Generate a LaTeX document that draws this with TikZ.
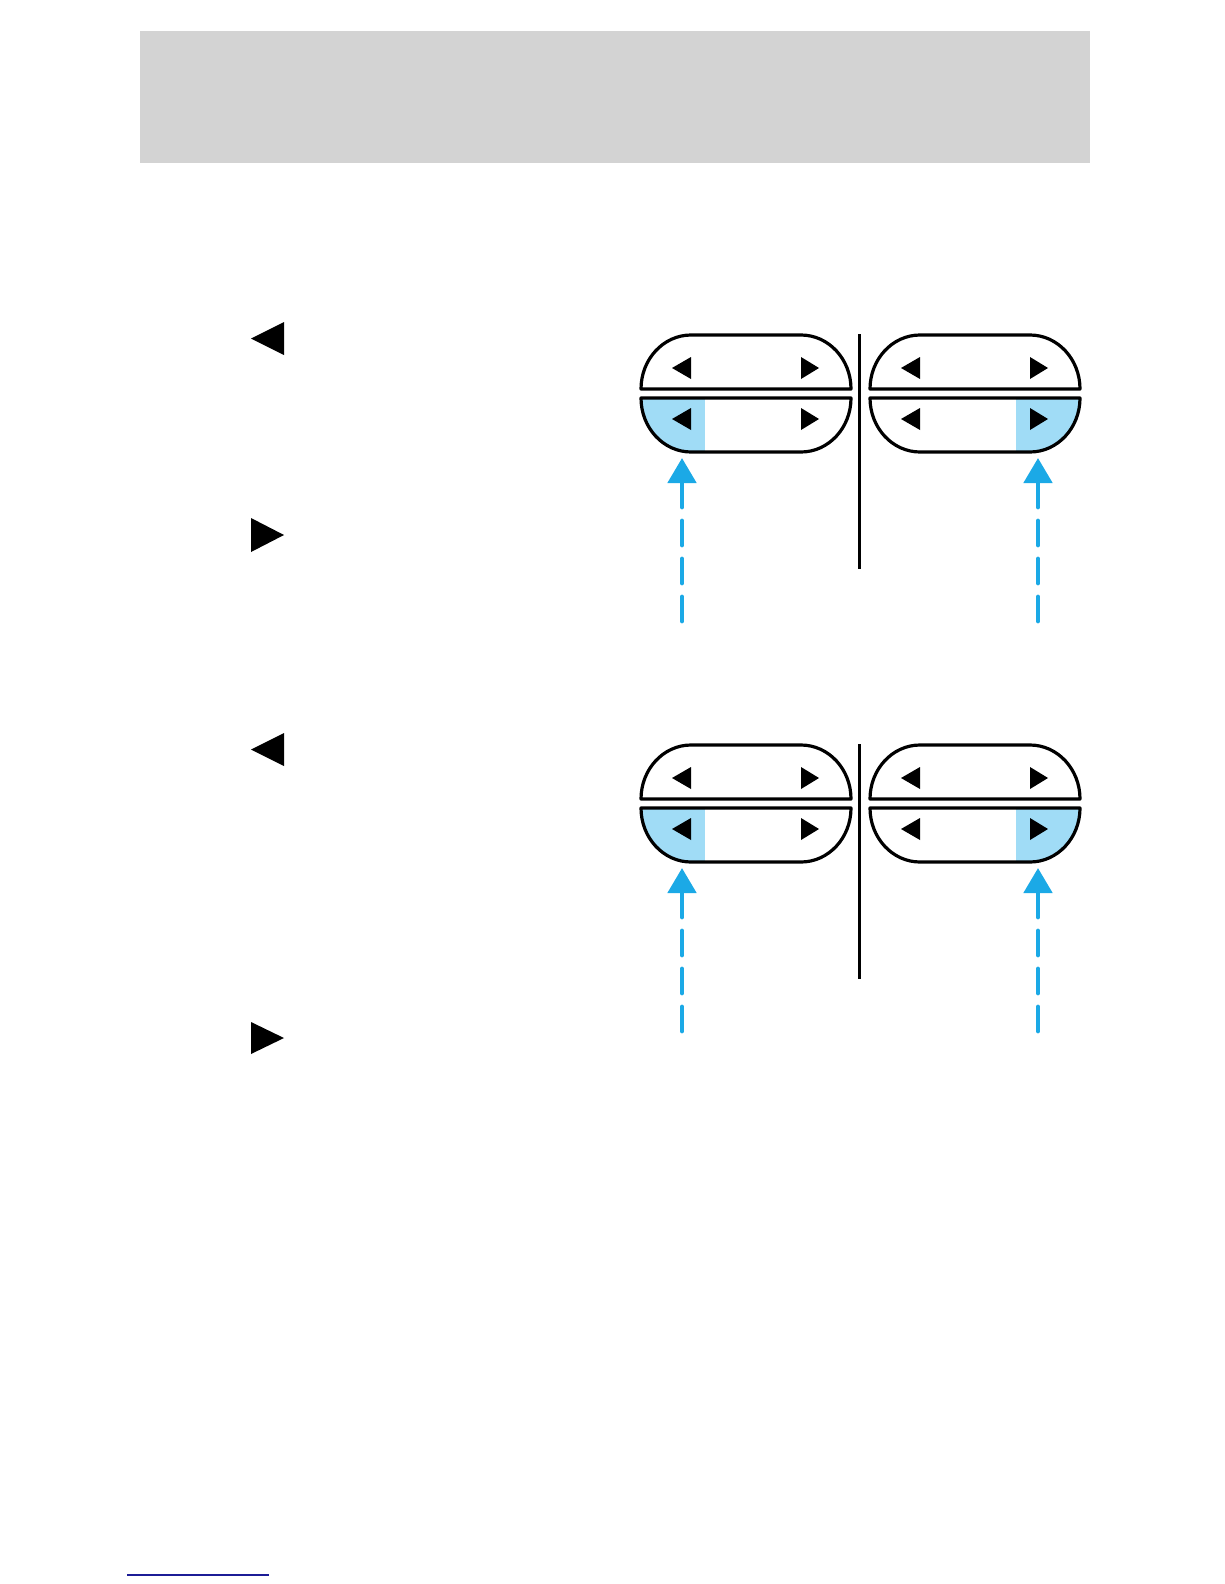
\documentclass[tikz,border=0pt]{standalone}
\usetikzlibrary{arrows.meta}
\definecolor{headgray}{HTML}{D3D3D3}
\definecolor{lightfill}{HTML}{A0DCF6}
\definecolor{arrowblue}{HTML}{1BA9E6}
\definecolor{linknavy}{HTML}{1C1C96}
\tikzset{
  outline/.style={draw=black, line width=3.2pt, line join=round},
  tri/.style={fill=black, draw=none},
  bluearrow/.style={draw=arrowblue, line width=4.8pt, line cap=round,
    dash pattern=on 24pt off 14pt,
    arrows={-Triangle[width=28pt,length=25pt,fill=arrowblue]}},
  divider/.style={draw=black, line width=3pt},
  pics/btngrp/.style={code={
    % upper half
    \path[outline, fill=white] (0,54) .. controls (0,24.2) and (22.4,0) .. (50,0) -- (160,0)
       .. controls (187.6,0) and (210,24.2) .. (210,54) -- cycle;
    % lower half with highlighted end
    \begin{scope}
      \clip (0,63) -- (210,63) .. controls (210,92.8) and (187.6,117) .. (160,117) -- (50,117)
         .. controls (22.4,117) and (0,92.8) .. (0,63) -- cycle;
      \fill[white] (0,60) rectangle (210,120);
      \fill[lightfill] (#1,60) rectangle ++(64,60);
    \end{scope}
    \path[outline] (0,63) -- (210,63) .. controls (210,92.8) and (187.6,117) .. (160,117) -- (50,117)
       .. controls (22.4,117) and (0,92.8) .. (0,63) -- cycle;
    % small triangles
    \fill[tri] (31,33) -- (50,22) -- (50,44) -- cycle;
    \fill[tri] (178,33) -- (160,22) -- (160,44) -- cycle;
    \fill[tri] (31,84) -- (50,73) -- (50,95) -- cycle;
    \fill[tri] (178,84) -- (160,73) -- (160,95) -- cycle;
  }}
}
\begin{document}
\begin{tikzpicture}[x=1pt, y=-1pt]
\useasboundingbox (0,0) rectangle (1224,1584);
\fill[white] (0,0) rectangle (1224,1584);

% header band
\node[fill=headgray, draw=none, minimum width=950pt, minimum height=132pt, inner sep=0pt, anchor=north west] (header) at (140,31) {};

% large text-side triangles
\fill[tri] (251,338.5) -- (284,322) -- (284,355) -- cycle;
\fill[tri] (284,535) -- (251,518) -- (251,552) -- cycle;
\fill[tri] (251,749.5) -- (284,733) -- (284,766) -- cycle;
\fill[tri] (284,1038) -- (251,1022) -- (251,1054) -- cycle;

% ---------- upper diagram ----------
\pic at (641,335) {btngrp=0};
\pic at (870,335) {btngrp=146};
\coordinate (divTopA) at (859,334);
\coordinate (divBotA) at (859,569);
\draw[divider] (divTopA) -- (divBotA);
\coordinate (tipA1) at (682,458);
\coordinate (tailA1) at (682,621);
\coordinate (tipA2) at (1038,458);
\coordinate (tailA2) at (1038,621);
\draw[bluearrow] (tailA1) -- (tipA1);
\draw[bluearrow] (tailA2) -- (tipA2);

% ---------- lower diagram ----------
\pic at (641,745) {btngrp=0};
\pic at (870,745) {btngrp=146};
\coordinate (divTopB) at (859,744);
\coordinate (divBotB) at (859,979);
\draw[divider] (divTopB) -- (divBotB);
\coordinate (tipB1) at (682,868);
\coordinate (tailB1) at (682,1031);
\coordinate (tipB2) at (1038,868);
\coordinate (tailB2) at (1038,1031);
\draw[bluearrow] (tailB1) -- (tipB1);
\draw[bluearrow] (tailB2) -- (tipB2);

% footer link rule
\coordinate (ruleL) at (127,1575);
\coordinate (ruleR) at (269,1575);
\draw[linknavy, line width=1.3pt] (ruleL) -- (ruleR);
\end{tikzpicture}
\end{document}
